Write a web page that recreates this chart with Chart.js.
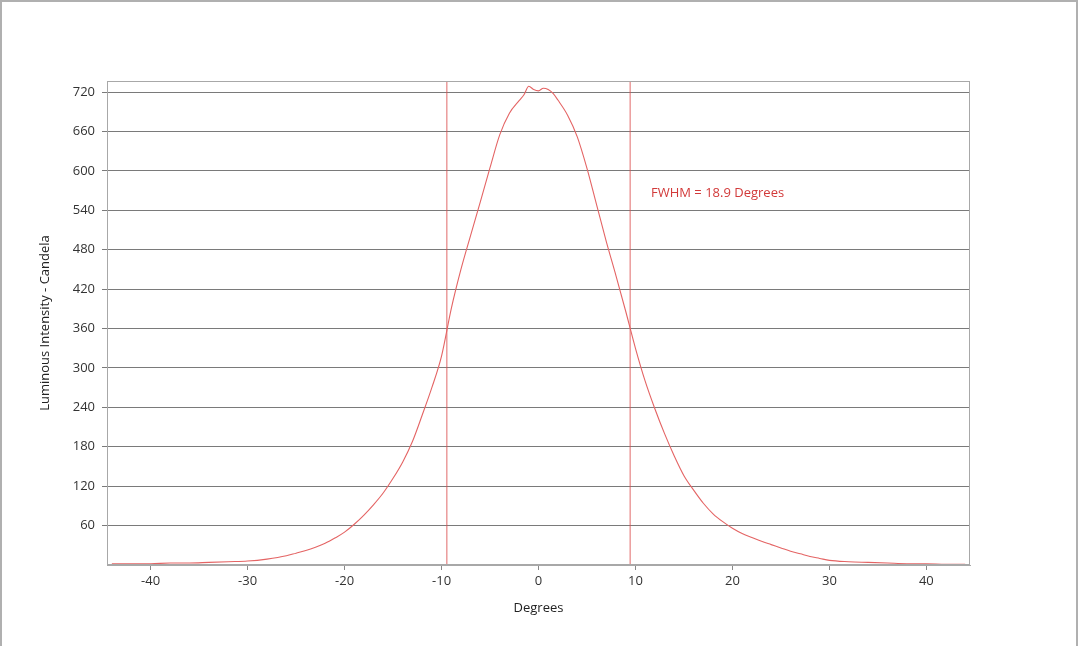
<!DOCTYPE html>
<html>
<head>
<meta charset="utf-8">
<script src="https://cdn.jsdelivr.net/npm/chart.js@4"></script>
<style>
  html, body { margin: 0; padding: 0; background: #fff; }
  #wrap { width: 1080px; height: 646px; position: relative; }
</style>
</head>
<body>
<div id="wrap"><canvas id="beam-chart"></canvas></div>
<script>
// angle in degrees, intensity in candela
const angles = [-44, -42, -40, -38, -36, -34, -32, -30, -28, -26, -25, -24, -23, -22, -21, -20,
  -19, -18, -17, -16, -15, -14, -13, -12, -11, -10, -9, -8, -7, -6, -5, -4, -3, -2, -1.5, -1,
  -0.5, 0, 0.5, 1, 1.5, 2, 3, 4, 5, 6, 7, 8, 9, 10, 11, 12, 13, 14, 15, 16, 17, 18, 19, 20,
  21, 22, 23, 24, 25, 26, 27, 28, 29, 30, 32, 34, 36, 38, 40, 42, 44]
const intensity = [2, 2, 2, 3, 3, 4, 5, 6, 9, 14, 18, 22, 27, 33, 41, 50,
  62, 76, 92, 110, 132, 157, 188, 228, 270, 318, 390, 450, 502, 553, 605, 655, 688, 707, 716, 729,
  724, 722, 726, 724, 718, 708, 685, 652, 604, 548, 492, 440, 386, 330, 280, 238, 200, 166, 136, 114, 94, 78, 66, 56,
  48, 42, 36, 31, 26, 21, 17, 13, 10, 7, 5, 4, 3, 2, 2, 1, 1]

const fwhm_left = -9.45
const fwhm_right = 9.45
const fwhm_label = 'FWHM = 18.9 Degrees'

const x_ticks = [-40, -30, -20, -10, 0, 10, 20, 30, 40]
const y_ticks = [60, 120, 180, 240, 300, 360, 420, 480, 540, 600, 660, 720]

const x_min = -44.5
const x_max = 44.5
const y_min = 0
const y_max = 737

const font_family = '"Open Sans", "Noto Sans", sans-serif'

let curve = angles.map((a, i) => ({ x: a, y: intensity[i] }))

let frame_plugin = {
    id: 'frame',
    beforeDraw(chart) {
        let c = chart.ctx
        c.save()
        c.fillStyle = '#ffffff'
        c.fillRect(0, 0, chart.width, chart.height)
        // outer grey frame of the picture
        c.strokeStyle = '#b0b0b0'
        c.lineWidth = 2
        c.beginPath()
        c.moveTo(1, chart.height)
        c.lineTo(1, 1)
        c.lineTo(1077, 1)
        c.lineTo(1077, chart.height)
        c.stroke()
        c.restore()
    },
    afterDraw(chart) {
        let c = chart.ctx
        let a = chart.chartArea
        c.save()
        c.strokeStyle = '#a8a8a8'
        c.lineWidth = 1
        c.strokeRect(a.left + 0.5, a.top + 0.5, a.right - a.left - 1, a.bottom - a.top - 1)
        c.fillStyle = '#d23a3a'
        c.font = '13px ' + font_family
        c.textAlign = 'left'
        c.textBaseline = 'middle'
        c.fillText(fwhm_label, chart.scales.x.getPixelForValue(11.6), chart.scales.y.getPixelForValue(566))
        c.restore()
    }
}

let ctx = document.getElementById('beam-chart')
ctx.width = 1080
ctx.height = 646

let my_chart = new Chart(ctx, {
    type: 'scatter',
    data: {
        datasets: [{
            data: curve,
            showLine: true,
            borderColor: 'rgb(228, 100, 100)',
            borderWidth: 1.1,
            pointRadius: 0,
            cubicInterpolationMode: 'monotone'
        },
        {
            data: [{ x: fwhm_left, y: y_min }, { x: fwhm_left, y: y_max }],
            showLine: true,
            borderColor: 'rgba(220, 80, 80, 0.85)',
            borderWidth: 1,
            pointRadius: 0
        },
        {
            data: [{ x: fwhm_right, y: y_min }, { x: fwhm_right, y: y_max }],
            showLine: true,
            borderColor: 'rgba(220, 80, 80, 0.85)',
            borderWidth: 1,
            pointRadius: 0
        }]
    },
    options: {
        responsive: false,
        animation: false,
        layout: { padding: { left: 0, top: 81, right: 110, bottom: 0 } },
        plugins: { legend: { display: false }, tooltip: { enabled: false } },
        scales: {
            x: {
                type: 'linear',
                min: x_min,
                max: x_max,
                afterBuildTicks: s => { s.ticks = x_ticks.map(v => ({ value: v })) },
                afterFit: s => { s.height = 81 },
                grid: { drawOnChartArea: false, color: '#888', tickLength: 5 },
                border: { color: '#a8a8a8' },
                ticks: { color: '#333', font: { family: font_family, size: 13 }, padding: 3, maxRotation: 0 },
                title: { display: true, text: 'Degrees', color: '#222', font: { family: font_family, size: 13 }, padding: { top: 0, bottom: 30 } }
            },
            y: {
                min: y_min,
                max: y_max,
                afterBuildTicks: s => { s.ticks = y_ticks.map(v => ({ value: v })) },
                afterFit: s => { s.width = 107 },
                grid: { color: '#7a7a7a', lineWidth: 1, tickLength: 5 },
                border: { color: '#a8a8a8' },
                ticks: { color: '#333', font: { family: font_family, size: 13 }, padding: 7 },
                title: { display: true, text: 'Luminous Intensity - Candela', color: '#222', font: { family: font_family, size: 13 }, padding: { top: 37, bottom: 0 } }
            }
        }
    },
    plugins: [frame_plugin]
})
</script>
</body>
</html>
